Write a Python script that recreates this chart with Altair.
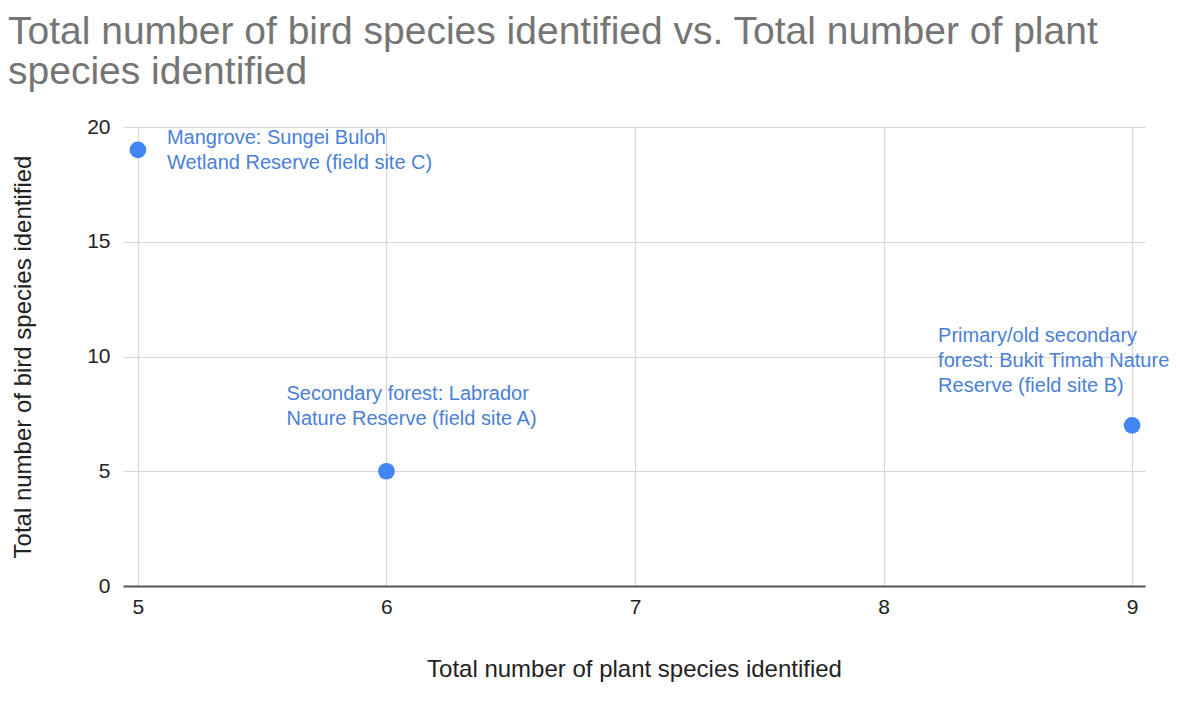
import altair as alt
import pandas as pd

site_names = [
    "Secondary forest: Labrador\nNature Reserve (field site A)",
    "Primary/old secondary\nforest: Bukit Timah Nature\nReserve (field site B)",
    "Mangrove: Sungei Buloh\nWetland Reserve (field site C)",
]
site_ids = ["A", "B", "C"]
plant_species = [6, 9, 5]
bird_species = [5, 7, 19]

x_ticks = [5, 6, 7, 8, 9]
y_ticks = [0, 5, 10, 15, 20]

df = pd.DataFrame({
    "site": site_ids,
    "label": site_names,
    "plants": plant_species,
    "birds": bird_species,
})

FONT = "Liberation Sans"
BLUE = "#4285F4"
LABEL_BLUE = "#4a7fd8"
DARK = "#222222"

x_enc = alt.X(
    "plants:Q",
    scale=alt.Scale(domain=[4.94, 9.052], nice=False, zero=False),
    axis=alt.Axis(
        values=x_ticks,
        title="Total number of plant species identified",
        titleFontSize=24,
        titleFontWeight="normal",
        titleColor=DARK,
        titleFont=FONT,
        titlePadding=40,
        labelFontSize=21,
        labelColor=DARK,
        labelFont=FONT,
        labelPadding=10,
        ticks=False,
        domainColor="#555555",
        domainWidth=2,
        gridColor="#d6d6d6",
        gridWidth=1.2,
        labelFlush=False,
    ),
)
y_enc = alt.Y(
    "birds:Q",
    scale=alt.Scale(domain=[0, 20], nice=False),
    axis=alt.Axis(
        values=y_ticks,
        title="Total number of bird species identified",
        titleFontSize=24,
        titleFontWeight="normal",
        titleColor=DARK,
        titleFont=FONT,
        titlePadding=51,
        labelFontSize=21,
        labelColor=DARK,
        labelFont=FONT,
        labelPadding=13,
        ticks=False,
        domain=False,
        gridColor="#d6d6d6",
        gridWidth=1.2,
    ),
)

base = alt.Chart(df)

points = base.mark_point(filled=True, size=280, opacity=1, color=BLUE).encode(x=x_enc, y=y_enc)

offsets = {"A": (-100, -87), "B": (-194, -99), "C": (29, -22)}
texts = []
for sid in site_ids:
    dx, dy = offsets[sid]
    texts.append(
        base.transform_filter(alt.datum.site == sid)
        .mark_text(
            align="left", baseline="top", dx=dx, dy=dy, fontSize=20,
            lineBreak="\n", lineHeight=25, color=LABEL_BLUE, font=FONT,
        )
        .encode(x=x_enc, y=y_enc, text="label:N")
    )

chart = alt.layer(points, *texts).properties(
    width=1022,
    height=459,
    autosize=alt.AutoSizeParams(type="none"),
    padding={"left": 115, "top": 119, "right": 27, "bottom": 117},
    title=alt.TitleParams(
        text=["Total number of bird species identified vs. Total number of plant", "species identified"],
        anchor="start",
        frame="group",
        dx=-115,
        offset=24,
        fontSize=39,
        fontWeight="normal",
        color="#757575",
        font=FONT,
        lineHeight=40,
    ),
).configure_view(stroke=None)

chart.save("out.html", embed_options={"renderer": "svg", "actions": False})
